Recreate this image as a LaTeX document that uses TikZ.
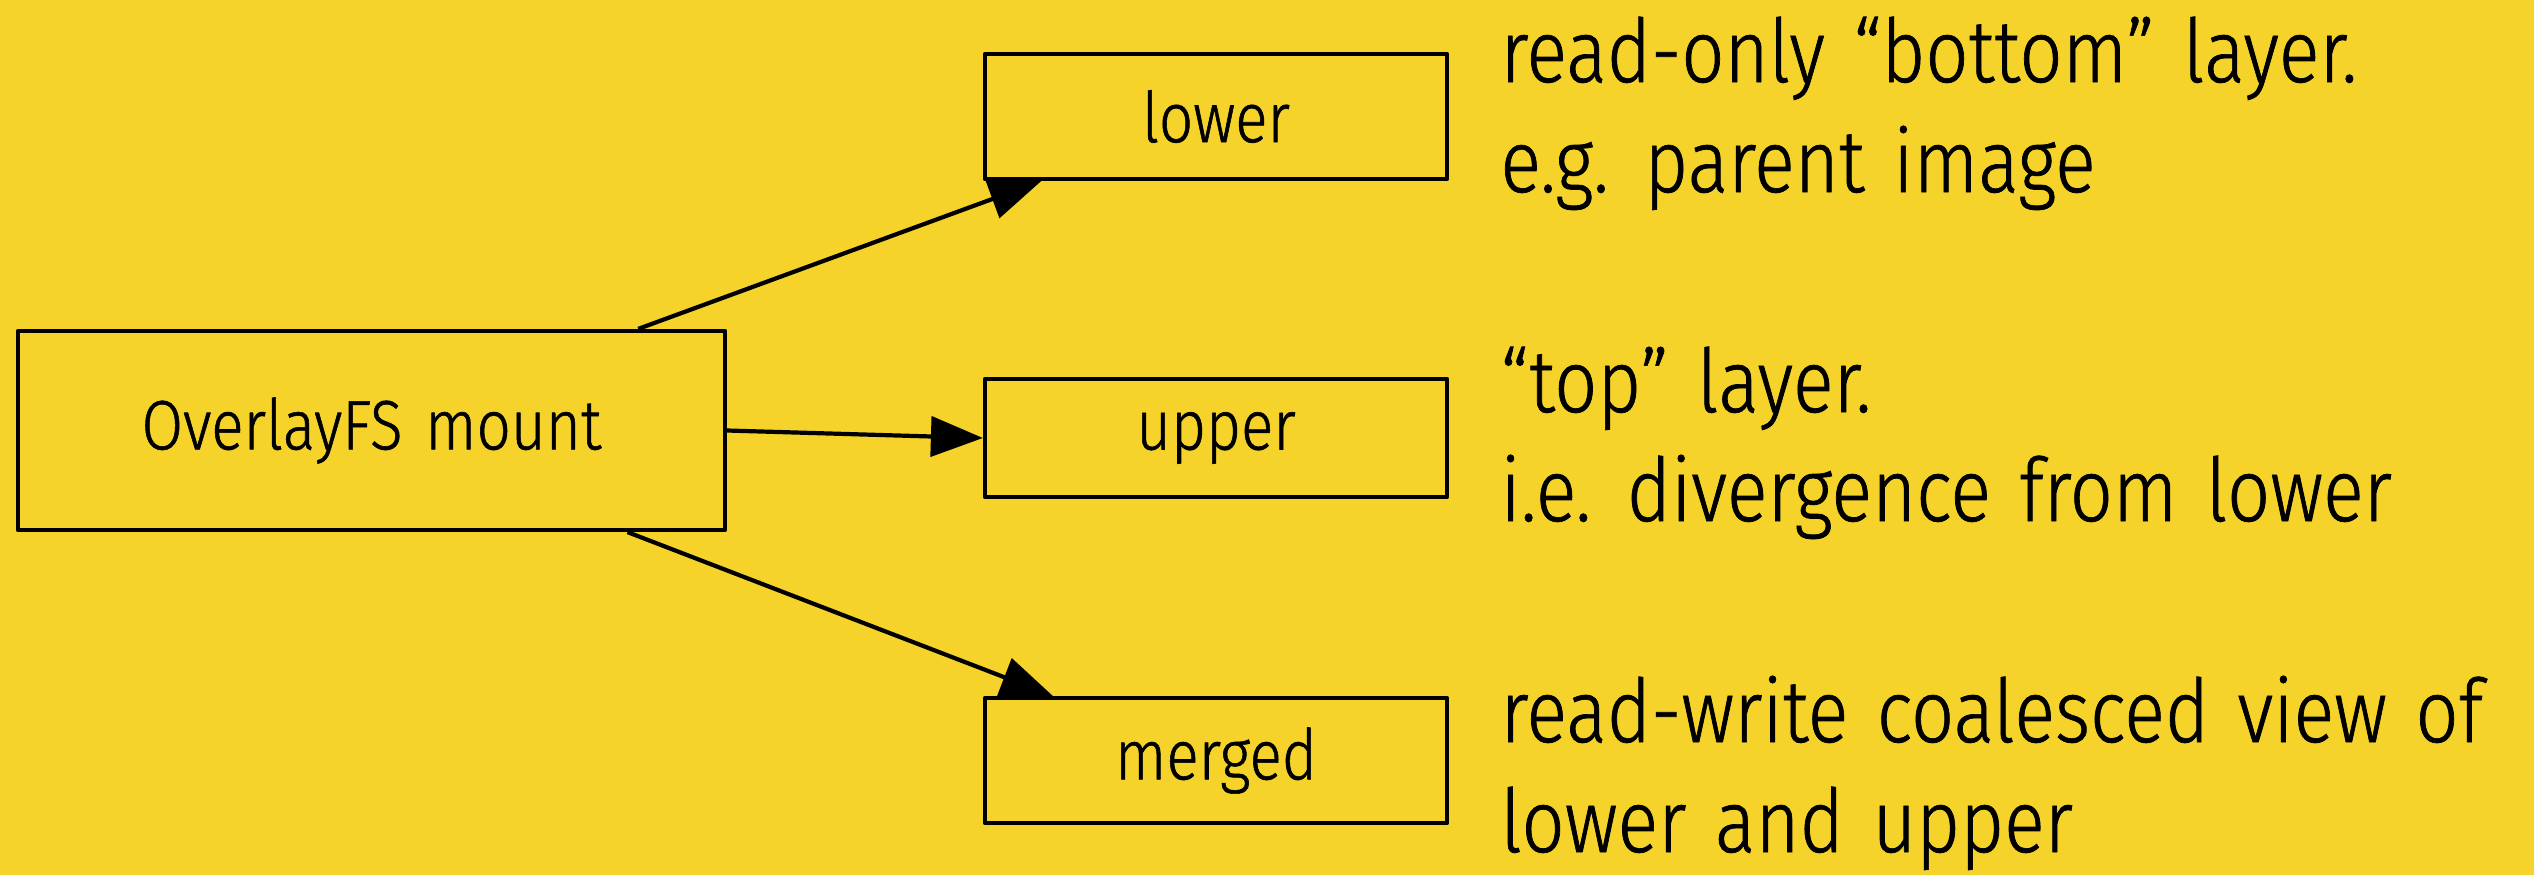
\documentclass[tikz,border=0pt]{standalone}
\usepackage{fontspec}
\setmainfont{Fira Sans}[UprightFont=* Light, FakeStretch=0.86, FakeBold=0.8, WordSpace=1.35]
\usetikzlibrary{arrows.meta,calc}
\definecolor{bg}{HTML}{F5D32A}
\begin{document}
\begin{tikzpicture}[x=0.5pt,y=-0.5pt,
  box/.style={draw=black, line width=2.1pt, line join=round, fill=bg, inner sep=0pt,
    font=\fontsize{35}{42}\selectfont},
  link/.style={draw=black, line width=2.1pt, -{Triangle[length=26pt,width=20pt]}},
  note/.style={anchor=base west, inner sep=0pt, font=\fontsize{44}{55}\selectfont}]
\fill[bg] (0,0) rectangle (2534,875);
\useasboundingbox (0,0) rectangle (2534,875);

% boxes
\node[box, minimum width=353.5pt, minimum height=99.5pt] (mount) at (371.5,430.5) {OverlayFS mount};
\node[box, minimum width=231pt, minimum height=62.5pt] (lower) at (1216,116.5) {lower};
\node[box, minimum width=231pt, minimum height=59pt] (upper) at (1216,438) {upper};
\node[box, minimum width=231pt, minimum height=62.5pt] (merged) at (1216,760.5) {merged};

% connectors
\draw[link] ($(mount.north west)!0.875!(mount.north east)$) -- ($(lower.south west)!0.125!(lower.south east)$);
\draw[link] (mount.east) -- (upper.west);
\draw[link] ($(mount.south west)!0.86!(mount.south east)$) -- ($(merged.north west)!0.15!(merged.north east)$);

% descriptions
\node[note] (d1a) at (1500,82) {read-only “bottom” layer.};
\node[note] (d1b) at (1500,192) {e.g. parent image};
\node[note] (d2a) at (1500,412) {“top” layer.};
\node[note] (d2b) at (1500,521) {i.e. divergence from lower};
\node[note] (d3a) at (1500,742) {read-write coalesced view of};
\node[note] (d3b) at (1500,852) {lower and upper};
\end{tikzpicture}
\end{document}
